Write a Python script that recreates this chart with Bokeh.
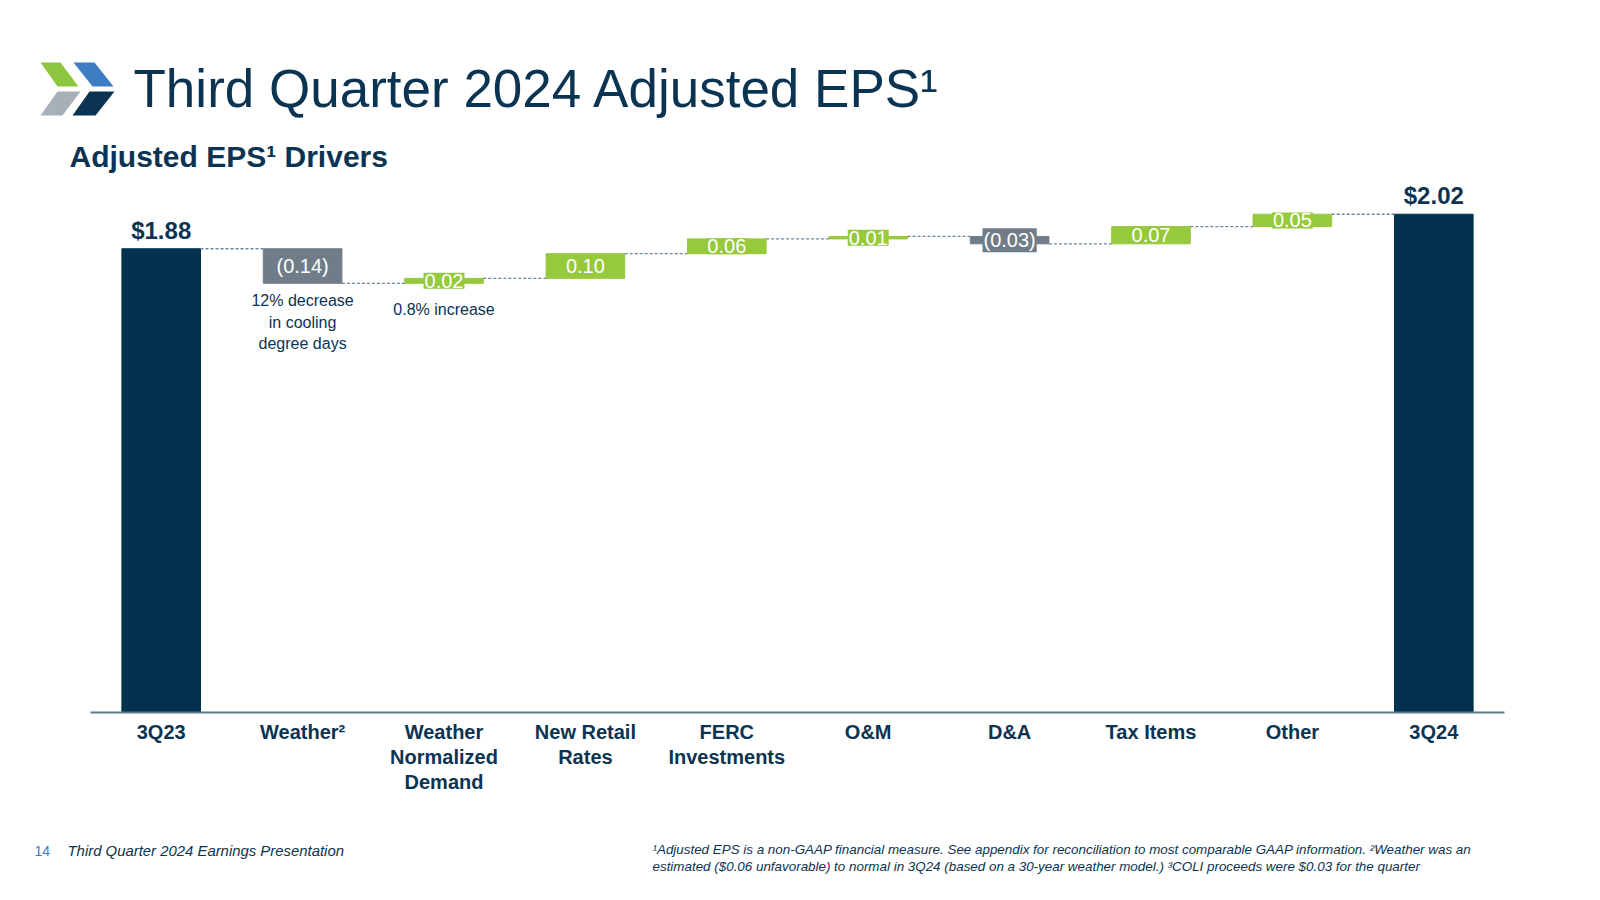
from bokeh.plotting import figure
from bokeh.models import Range1d, ColumnDataSource, Label, PolyAnnotation
from bokeh.embed import file_html
from bokeh.resources import INLINE
from bokeh.core.properties import value

# ---------------- data ----------------
categories = ["3Q23", "Weather²", "Weather\nNormalized\nDemand", "New Retail\nRates",
              "FERC\nInvestments", "O&M", "D&A", "Tax Items", "Other", "3Q24"]
start_eps = 1.88
end_eps = 2.02
drivers = [-0.14, 0.02, 0.10, 0.06, 0.01, -0.03, 0.07, 0.05]
note_index = [1, 2]
note_text = ["12% decrease\nin cooling\ndegree days", "0.8% increase"]

title_text = "Third Quarter 2024 Adjusted EPS¹"
subtitle_text = "Adjusted EPS¹ Drivers"
page_number = "14"
footer_text = "Third Quarter 2024 Earnings Presentation"
footnote_1 = ("¹Adjusted EPS is a non-GAAP financial measure. See appendix for reconciliation to most "
              "comparable GAAP information. ²Weather was an")
footnote_2 = ("estimated ($0.06 unfavorable) to normal in 3Q24 (based on a 30-year weather model.) "
              "³COLI proceeds were $0.03 for the quarter")

# ---------------- styles / layout ----------------
NAVY = "#03324F"
TEXT = "#0B3352"
GREEN = "#97C93D"
GRAY = "#707D88"
DASH = "#6E8797"
AXIS = "#5D7A8E"
FONT = "Liberation Sans"
BAR_W = 0.556

W, H = 1584, 880           # canvas = frame
PLOT_LEFT, PLOT_BASE = 90, 712   # page position of the chart's left edge and zero line
PX_CAT = 141.4             # pixels per category
PX_EPS = 246.67            # pixels per $1 EPS

# ---------------- derived geometry from data ----------------
n = len(categories)
xpos = list(range(n))
bottoms = [0.0]
tops = [start_eps]
colors = [NAVY]
levels = [start_eps]
level = start_eps
for d in drivers:
    new = round(level + d, 4)
    bottoms.append(min(level, new))
    tops.append(max(level, new))
    colors.append(GREEN if d >= 0 else GRAY)
    level = new
    levels.append(level)
bottoms.append(0.0)
tops.append(end_eps)
colors.append(NAVY)

bars = ColumnDataSource(dict(x=xpos, bottom=bottoms, top=tops, color=colors))

x_start = -0.5 - PLOT_LEFT / PX_CAT
x_end = -0.5 + (W - PLOT_LEFT) / PX_CAT
y_start = -(H - PLOT_BASE) / PX_EPS
y_end = PLOT_BASE / PX_EPS

p = figure(width=W, height=H, output_backend="svg", toolbar_location=None,
           x_range=Range1d(x_start, x_end), y_range=Range1d(y_start, y_end),
           x_axis_location=None, y_axis_location=None, min_border=0)
p.outline_line_color = None
p.xgrid.visible = False
p.ygrid.visible = False
p.background_fill_color = "white"
p.border_fill_color = "white"

p.vbar(x="x", bottom="bottom", top="top", width=BAR_W, color="color", source=bars)

# axis line and category labels
p.segment(x0=[-0.5], x1=[n - 0.5], y0=[0], y1=[0], line_color=AXIS, line_width=2)
p.text(x=xpos, y=[0] * n, text=categories, text_align="center", text_baseline="top",
       y_offset=8, text_color=TEXT, text_font=value(FONT), text_font_size="20px",
       text_font_style="bold", text_line_height=1.15)

# connectors
cx0 = [i + BAR_W / 2 for i in range(n - 1)]
cx1 = [i + 1 - BAR_W / 2 for i in range(n - 1)]
p.segment(x0=cx0, x1=cx1, y0=levels, y1=levels, line_color=DASH, line_width=1.3,
          line_dash="3 2")

# value labels for drivers
dl = ColumnDataSource(dict(
    x=xpos[1:-1],
    y=[(b + t) / 2 for b, t in zip(bottoms[1:-1], tops[1:-1])],
    text=[f"({abs(d):.2f})" if d < 0 else f"{d:.2f}" for d in drivers],
    color=colors[1:-1],
))
p.text(x="x", y="y", text="text", source=dl, text_align="center", text_baseline="middle",
       text_color="white", text_font=value(FONT), text_font_size="20px",
       background_fill_color="color", padding=1)

# totals labels
p.text(x=[xpos[0], xpos[-1]], y=[start_eps, end_eps],
       text=[f"${start_eps:.2f}", f"${end_eps:.2f}"],
       text_align="center", text_baseline="bottom", y_offset=-5,
       text_color=TEXT, text_font=value(FONT), text_font_size="24px", text_font_style="bold")

# notes under bars
note_offsets = [9, 18]
for idx, txt, off in zip(note_index, note_text, note_offsets):
    p.text(x=[xpos[idx]], y=[bottoms[idx]], text=[txt], text_align="center",
           text_baseline="top", y_offset=off, text_color=TEXT, text_font=value(FONT),
           text_font_size="16px", text_line_height=1.27)


# ---------------- slide texts (page pixel positions) ----------------
def add_label(text, X, Y, size, color=TEXT, style="normal", align="left"):
    p.add_layout(Label(x=X, y=H - Y, x_units="screen", y_units="screen", text=text,
                       text_font=FONT, text_font_size=size, text_color=color,
                       text_font_style=style, text_align=align, text_baseline="middle"))


add_label(title_text, 133, 88, "53px")
add_label(subtitle_text, 69, 156, "30px", style="bold")
add_label(page_number, 34, 850, "14px", color="#3B7DC4")
add_label(footer_text, 67, 850, "14.9px", style="italic")
add_label(footnote_1, 652, 849, "13.4px", style="italic")
add_label(footnote_2, 652, 866, "13.4px", style="italic")

# logo (decoration)
logo = [
    ("#8DC63F", [40, 60, 78, 57], [62, 62, 86, 86]),
    ("#3C7DC4", [73, 94, 113, 92], [62, 62, 86, 86]),
    ("#A8AFB7", [57, 80, 62, 40], [91, 91, 115, 115]),
    ("#0B3352", [89, 114, 95, 72], [91, 91, 115, 115]),
]
for col, lx, ly in logo:
    p.add_layout(PolyAnnotation(xs=lx, ys=[H - v for v in ly],
                                xs_units="screen", ys_units="screen",
                                fill_color=col, fill_alpha=1.0, line_color=None))

open("out.html", "w").write(file_html(p, INLINE))
